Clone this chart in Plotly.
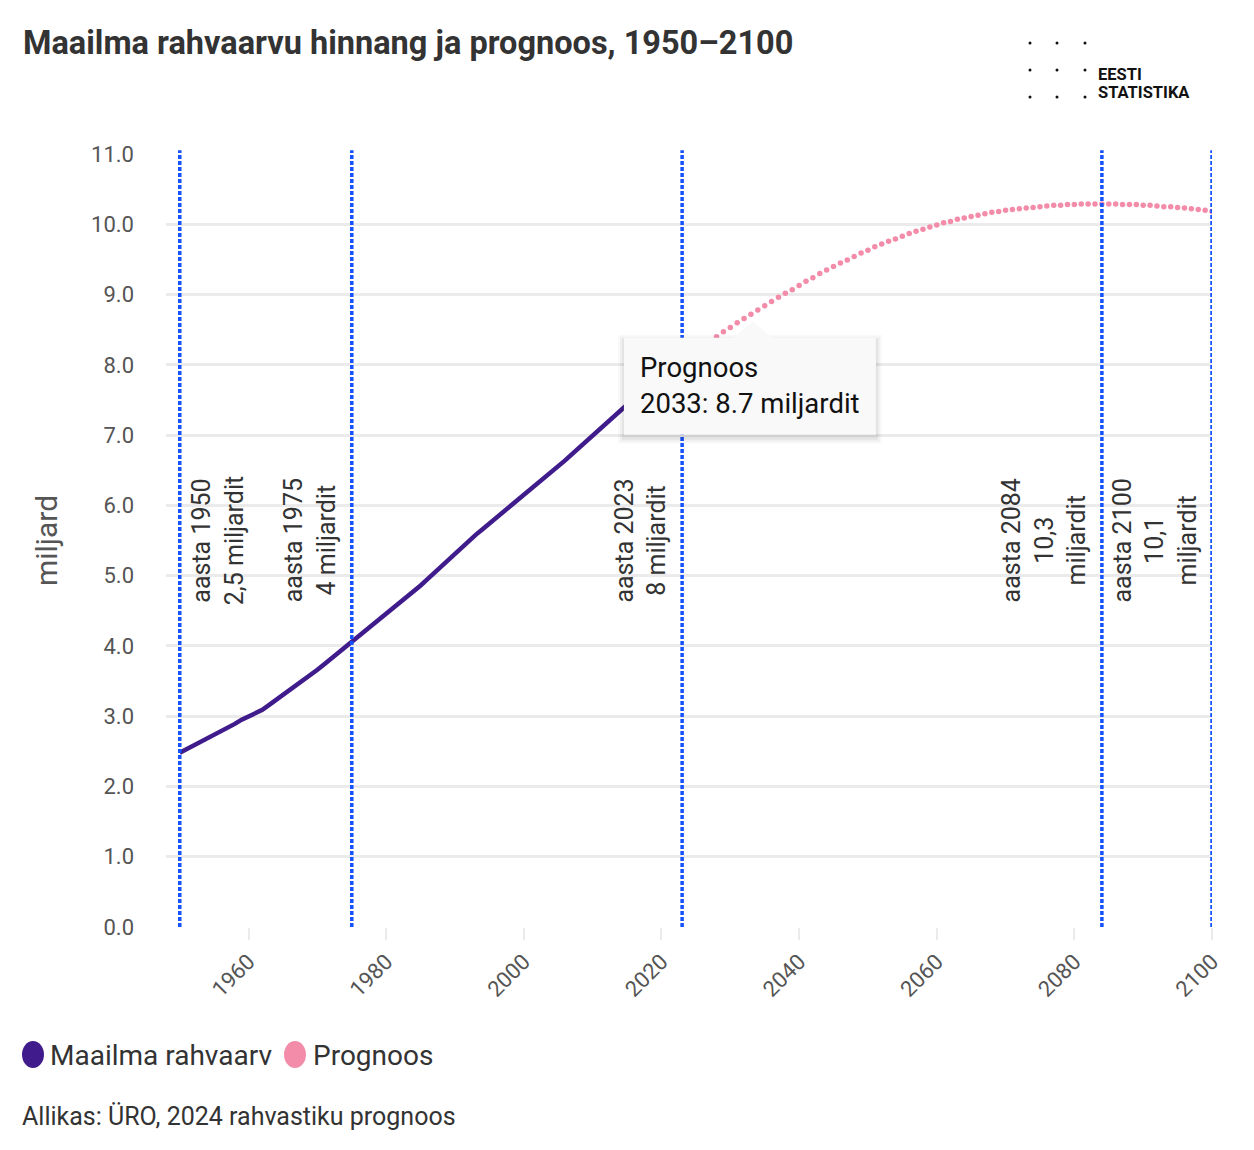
import plotly.graph_objects as go

# ---------------- data ----------------
title_text = "Maailma rahvaarvu hinnang ja prognoos, 1950–2100"
source_text = "Allikas: ÜRO, 2024 rahvastiku prognoos"
y_title = "miljard"

series_names = ["Maailma rahvaarv", "Prognoos"]

hist_years = list(range(1950, 2024))
hist_values = [
    2.48, 2.53, 2.58, 2.63, 2.68, 2.73, 2.78, 2.84, 2.89, 2.95,
    3.00, 3.05, 3.09, 3.16, 3.23, 3.30, 3.37, 3.44, 3.51, 3.58,
    3.66, 3.74, 3.82, 3.90, 3.98, 4.06, 4.13, 4.20, 4.28, 4.36,
    4.44, 4.52, 4.60, 4.69, 4.77, 4.86, 4.95, 5.04, 5.14, 5.23,
    5.33, 5.42, 5.50, 5.58, 5.66, 5.74, 5.82, 5.90, 5.98, 6.06,
    6.15, 6.23, 6.31, 6.39, 6.47, 6.56, 6.64, 6.73, 6.82, 6.90,
    6.99, 7.08, 7.17, 7.26, 7.34, 7.43, 7.52, 7.60, 7.68, 7.76,
    7.84, 7.92, 8.00, 8.08,
]

prog_years = list(range(2024, 2101))
prog_values = [
    8.16, 8.22, 8.28, 8.34, 8.40, 8.47,
    8.53, 8.60, 8.66, 8.72, 8.78, 8.84, 8.90, 8.96, 9.02, 9.07,
    9.13, 9.19, 9.24, 9.30, 9.35, 9.40, 9.45, 9.49, 9.54, 9.59,
    9.63, 9.68, 9.72, 9.76, 9.79, 9.83, 9.87, 9.90, 9.93, 9.96,
    9.99, 10.02, 10.04, 10.07, 10.09, 10.11, 10.13, 10.15, 10.17, 10.18,
    10.20, 10.21, 10.22, 10.23, 10.24, 10.25, 10.26, 10.27, 10.27, 10.28,
    10.28, 10.29, 10.29, 10.29, 10.29, 10.29, 10.29, 10.28, 10.28, 10.28,
    10.27, 10.27, 10.26, 10.25, 10.25, 10.24, 10.23, 10.22, 10.21, 10.20,
    10.18,
]

mark_years = [1950, 1975, 2023, 2084, 2100]
mark_labels = [
    "aasta 1950<br>2,5 miljardit",
    "aasta 1975<br>4 miljardit",
    "aasta 2023<br>8 miljardit",
    "aasta 2084<br>10,3<br>miljardit",
    "aasta 2100<br>10,1<br>miljardit",
]

x_ticks = [1960, 1980, 2000, 2020, 2040, 2060, 2080, 2100]
y_ticks = [0, 1, 2, 3, 4, 5, 6, 7, 8, 9, 10, 11]

tooltip_series = "Prognoos"
tooltip_year = 2033
tooltip_value = 8.7

# ---------------- styles ----------------
PURPLE = "#3f1b8b"
PINK = "#f28ca9"
BLUE = "#1452ff"
GRID = "#ebebeb"
TXT = "#333333"
AX = "#555555"
FONT = "Roboto"

W, H = 1254, 1150
L, R, T, B = 166, 1212, 154, 927


def px(X):
    return (X - L) / (R - L)


def py(Y):
    return (B - Y) / (B - T)


fig = go.Figure()
fig.add_trace(go.Scatter(
    x=hist_years, y=hist_values, mode="lines", name=series_names[0],
    line=dict(color=PURPLE, width=4.5), showlegend=False, hoverinfo="skip",
))
fig.add_trace(go.Scatter(
    x=prog_years, y=prog_values, mode="markers", name=series_names[1],
    marker=dict(color=PINK, size=5.5, line=dict(width=0)), showlegend=False,
    hoverinfo="skip",
))

shapes = []
annotations = []

# vertical marker lines + labels
for yr, lab in zip(mark_years, mark_labels):
    shapes.append(dict(
        type="line", xref="x", yref="paper", x0=yr, x1=yr, y0=0, y1=1.005,
        line=dict(color=BLUE, width=3.5, dash="4px,2px"), layer="above",
    ))
    left_side = yr == mark_years[0]
    annotations.append(dict(
        x=yr, y=5.5, xref="x", yref="y", text=lab, showarrow=False,
        textangle=-90, align="center",
        xanchor="left" if left_side else "right", yanchor="middle",
        xshift=5 if left_side else -9,
        font=dict(family=FONT, size=25, color=TXT),
    ))

# tooltip (static) anchored to data point
for grow, alpha in [(6, 0.025), (4, 0.035), (2, 0.05)]:
    shapes.append(dict(
        type="rect", xref="x", yref="y", xsizemode="pixel", ysizemode="pixel",
        xanchor=tooltip_year, yanchor=tooltip_value,
        x0=-127 - grow, x1=125 + grow, y0=-22 + grow - 3, y1=-119 - grow - 3,
        fillcolor=f"rgba(0,0,0,{alpha})", line=dict(width=0), layer="above",
    ))
shapes.append(dict(
    type="rect", xref="x", yref="y", xsizemode="pixel", ysizemode="pixel",
    xanchor=tooltip_year, yanchor=tooltip_value,
    x0=-127, x1=125, y0=-22, y1=-119,
    fillcolor="#f9f9f9", line=dict(width=0), layer="above",
))
shapes.append(dict(
    type="path", xref="x", yref="y", xsizemode="pixel", ysizemode="pixel",
    xanchor=tooltip_year, yanchor=tooltip_value,
    path="M -18 -22.5 L 2 -6 L 22 -22.5 Z",
    fillcolor="#f9f9f9", line=dict(width=0), layer="above",
))
annotations.append(dict(
    x=tooltip_year, y=tooltip_value, xref="x", yref="y",
    text=f"{tooltip_series}<br>{tooltip_year}: {tooltip_value} miljardit",
    showarrow=False, xanchor="left", yanchor="middle", align="left",
    xshift=-113, yshift=-70,
    font=dict(family=FONT, size=27.5, color="#111111"),
))

# title
annotations.append(dict(
    x=px(21), y=py(43), xref="paper", yref="paper", text=f"<b>{title_text}</b>",
    showarrow=False, xanchor="left", yanchor="middle",
    font=dict(family=FONT, size=32.5, color=TXT),
))

# logo
for lx in [1030, 1057, 1085]:
    for ly in [43, 70, 97]:
        shapes.append(dict(
            type="circle", xref="paper", yref="paper",
            x0=px(lx - 1.5), x1=px(lx + 1.5), y0=py(ly + 1.5), y1=py(ly - 1.5),
            fillcolor="#111111", line=dict(width=0),
        ))
annotations.append(dict(
    x=px(1097), y=py(74.5), xref="paper", yref="paper", text="<b>EESTI</b>",
    showarrow=False, xanchor="left", yanchor="middle",
    font=dict(family=FONT, size=16.5, color="#111111"), borderpad=0,
))
annotations.append(dict(
    x=px(1097), y=py(92.5), xref="paper", yref="paper", text="<b>STATISTIKA</b>",
    showarrow=False, xanchor="left", yanchor="middle",
    font=dict(family=FONT, size=16.5, color="#111111"), borderpad=0,
))

# manual legend
legend_items = [(series_names[0], PURPLE, 22, 48), (series_names[1], PINK, 284, 311)]
for name, col, sx, tx in legend_items:
    shapes.append(dict(
        type="circle", xref="paper", yref="paper",
        x0=px(sx), x1=px(sx + 22), y0=py(1068), y1=py(1041),
        fillcolor=col, line=dict(width=0),
    ))
    annotations.append(dict(
        x=px(tx), y=py(1055), xref="paper", yref="paper", text=name,
        showarrow=False, xanchor="left", yanchor="middle",
        font=dict(family=FONT, size=28, color=TXT),
    ))

# source
annotations.append(dict(
    x=px(20), y=py(1116), xref="paper", yref="paper", text=source_text,
    showarrow=False, xanchor="left", yanchor="middle",
    font=dict(family=FONT, size=25, color=TXT),
))

fig.update_layout(
    width=W, height=H,
    margin=dict(l=L, r=W - R, t=T, b=H - B),
    paper_bgcolor="white", plot_bgcolor="white",
    showlegend=False, hovermode=False,
    font=dict(family=FONT, color=AX),
    shapes=shapes, annotations=annotations,
    xaxis=dict(
        range=[1948, 2100], tickmode="array", tickvals=x_ticks,
        tickangle=-45, ticks="outside", ticklen=12, tickwidth=2, tickcolor=GRID,
        showgrid=False, zeroline=False, showline=False,
        tickfont=dict(family=FONT, size=22, color=AX),
    ),
    yaxis=dict(
        range=[0, 11], tickmode="array", tickvals=y_ticks, tickformat=".1f",
        showgrid=True, gridcolor=GRID, gridwidth=3, zeroline=False,
        showline=False, ticks="", ticklabelstandoff=31,
        tickfont=dict(family=FONT, size=22, color=AX),
        title=dict(text=y_title, font=dict(family=FONT, size=30, color=AX), standoff=24),
    ),
)

fig.write_html(
    "out.html",
    config={"displayModeBar": False},
    post_script="document.body.style.margin='0px';",
)
